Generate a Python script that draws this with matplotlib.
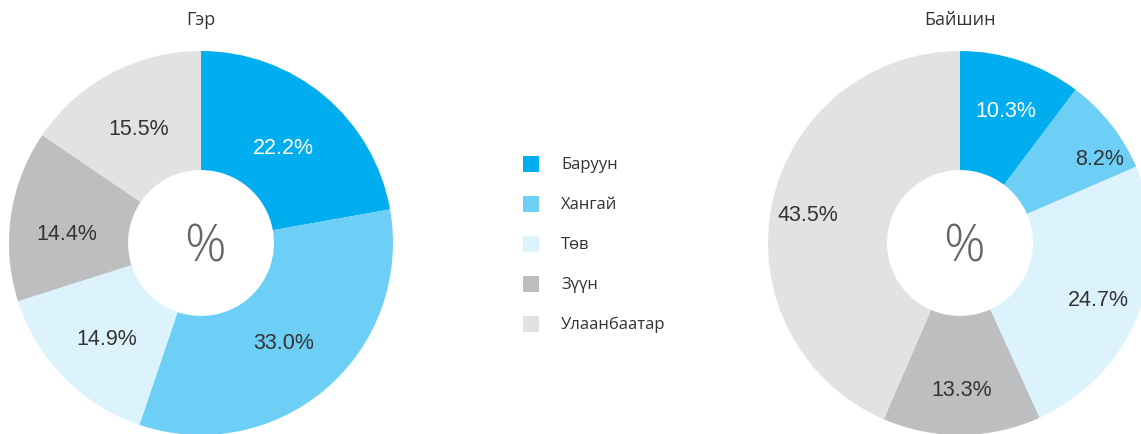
import matplotlib
matplotlib.use("Agg")
import numpy as np
import matplotlib.pyplot as plt
from matplotlib.patches import Rectangle

regions = ["Баруун", "Хангай", "Төв", "Зүүн", "Улаанбаатар"]
colors = ["#00AEEF", "#6DCFF6", "#DCF2FC", "#BCBEC0", "#E1E2E4"]
titles = ["Гэр", "Байшин"]
ger = [22.2, 33.0, 14.9, 14.4, 15.5]
baishin = [10.3, 8.2, 24.7, 13.3, 43.5]

W, H = 1141, 435
fig = plt.figure(figsize=(W / 100, H / 100), dpi=100)

R = 192
hole = 0.38


def donut(cx, cy, values, title, label_r, label_da):
    ax = fig.add_axes([(cx - R) / W, (H - cy - R) / H, 2 * R / W, 2 * R / H])
    ax.set_axis_off()
    wedges, _ = ax.pie(values, colors=colors, startangle=90, counterclock=False,
                       radius=1, wedgeprops=dict(width=1 - hole, edgecolor="none"))
    for i, (w, v) in enumerate(zip(wedges, values)):
        ang = np.deg2rad((w.theta1 + w.theta2) / 2 + label_da[i])
        ax.text(label_r[i] * np.cos(ang), label_r[i] * np.sin(ang) - 3 / R,
                f"{v:.1f}%", ha="center", va="center", fontsize=15.5,
                color="white" if i == 0 else "#333333", family="Liberation Sans")
    ax.text(0.02, -0.02, "%", ha="center", va="center", fontsize=37,
            color="#666666", family="Open Sans", fontweight="light")
    ax.set_xlim(-1, 1)
    ax.set_ylim(-1, 1)
    ax.set_aspect("equal")
    fig.text(cx / W, 1 - 20 / H, title, ha="center", va="center",
             fontsize=13, color="#333333", family="Open Sans")


donut(201, 244, ger, titles[0], [0.67, 0.66, 0.69, 0.70, 0.69], [0, 0, 0, 3, 0])
donut(960, 244, baishin, titles[1], [0.745, 0.86, 0.77, 0.75, 0.81], [0, -6, 0, 0, 0])

for i, (name, col) in enumerate(zip(regions, colors)):
    yc = 165 + 40 * i
    fig.patches.append(Rectangle((523 / W, 1 - (yc + 8) / H), 16 / W, 16 / H,
                                 transform=fig.transFigure, facecolor=col,
                                 edgecolor="none"))
    fig.text(561 / W, 1 - yc / H, name, ha="left", va="center",
             fontsize=12, color="#333333", family="Open Sans")

fig.savefig("out.png", dpi=100)
